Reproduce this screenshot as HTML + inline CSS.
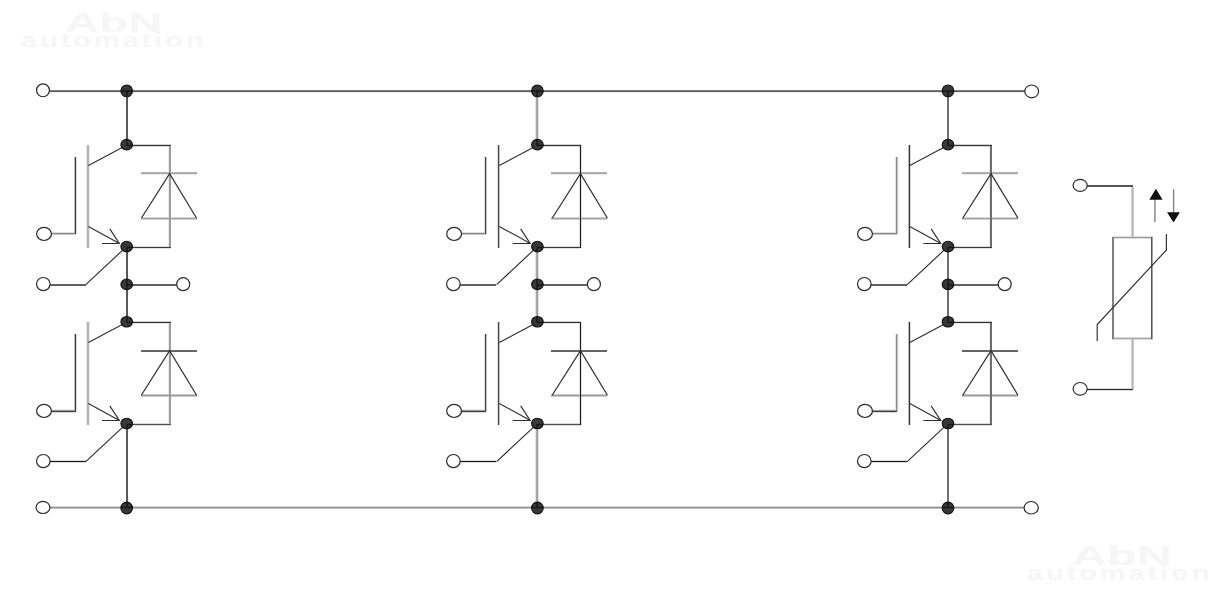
<!DOCTYPE html>
<html><head><meta charset="utf-8"><style>
html,body{margin:0;padding:0;background:#fff;width:1220px;height:590px;overflow:hidden;position:relative}
svg{display:block;position:absolute;left:0;top:0}
.wm{position:absolute;transform-origin:0 0;white-space:nowrap;font-family:"Liberation Sans",sans-serif;font-weight:bold;color:#f6f6f6;line-height:1}
</style></head><body>
<div class="wm" style="left:65px;top:10px;font-size:27px;transform:scaleX(1.75)">AbN</div>
<div class="wm" style="left:21px;top:29.5px;font-size:20px;transform:scaleX(1.45);letter-spacing:2px">automation</div>
<div class="wm" style="left:1071.5px;top:543px;font-size:27px;transform:scaleX(1.8)">AbN</div>
<div class="wm" style="left:1026.5px;top:562.5px;font-size:20px;transform:scaleX(1.45);letter-spacing:2px">automation</div>
<svg width="1220" height="590" viewBox="0 0 1220 590">
<g shape-rendering="crispEdges">
<rect x="50" y="92" width="975" height="1" fill="#eeeeee"/>
<rect x="898" y="157" width="1" height="77" fill="#eeeeee"/>
<rect x="989" y="145" width="1" height="103" fill="#eeeeee"/>
<rect x="898" y="334" width="1" height="77" fill="#eeeeee"/>
<rect x="989" y="322" width="1" height="103" fill="#eeeeee"/>
<rect x="89" y="145" width="1" height="103" fill="#ececec"/>
<rect x="168" y="145" width="1" height="103" fill="#ececec"/>
<rect x="89" y="322" width="1" height="103" fill="#ececec"/>
<rect x="168" y="322" width="1" height="103" fill="#ececec"/>
<rect x="86" y="145" width="1" height="103" fill="#e8e8e8"/>
<rect x="141" y="174" width="56" height="1" fill="#e8e8e8"/>
<rect x="50" y="409" width="26" height="1" fill="#e8e8e8"/>
<rect x="86" y="322" width="1" height="103" fill="#e8e8e8"/>
<rect x="127" y="323" width="44" height="1" fill="#e8e8e8"/>
<rect x="551" y="174" width="56" height="1" fill="#e8e8e8"/>
<rect x="460" y="409" width="26" height="1" fill="#e8e8e8"/>
<rect x="537" y="323" width="44" height="1" fill="#e8e8e8"/>
<rect x="962" y="174" width="56" height="1" fill="#e8e8e8"/>
<rect x="871" y="409" width="26" height="1" fill="#e8e8e8"/>
<rect x="948" y="323" width="44" height="1" fill="#e8e8e8"/>
<rect x="535" y="91" width="1" height="54" fill="#e4e4e4"/>
<rect x="538" y="91" width="1" height="54" fill="#e4e4e4"/>
<rect x="535" y="247" width="1" height="75" fill="#e4e4e4"/>
<rect x="538" y="247" width="1" height="75" fill="#e4e4e4"/>
<rect x="535" y="424" width="1" height="83" fill="#e4e4e4"/>
<rect x="538" y="424" width="1" height="83" fill="#e4e4e4"/>
<rect x="895" y="157" width="1" height="77" fill="#e4e4e4"/>
<rect x="895" y="334" width="1" height="77" fill="#e4e4e4"/>
<rect x="50" y="232" width="26" height="1" fill="#e0e0e0"/>
<rect x="127" y="248" width="44" height="1" fill="#e0e0e0"/>
<rect x="127" y="425" width="44" height="1" fill="#e0e0e0"/>
<rect x="460" y="232" width="26" height="1" fill="#e0e0e0"/>
<rect x="484" y="157" width="1" height="77" fill="#e0e0e0"/>
<rect x="497" y="145" width="1" height="103" fill="#e0e0e0"/>
<rect x="537" y="248" width="44" height="1" fill="#e0e0e0"/>
<rect x="579" y="145" width="1" height="103" fill="#e0e0e0"/>
<rect x="581" y="145" width="1" height="103" fill="#e0e0e0"/>
<rect x="484" y="334" width="1" height="77" fill="#e0e0e0"/>
<rect x="497" y="322" width="1" height="103" fill="#e0e0e0"/>
<rect x="537" y="425" width="44" height="1" fill="#e0e0e0"/>
<rect x="579" y="322" width="1" height="103" fill="#e0e0e0"/>
<rect x="581" y="322" width="1" height="103" fill="#e0e0e0"/>
<rect x="871" y="232" width="26" height="1" fill="#e0e0e0"/>
<rect x="910" y="145" width="1" height="103" fill="#e0e0e0"/>
<rect x="948" y="248" width="44" height="1" fill="#e0e0e0"/>
<rect x="910" y="322" width="1" height="103" fill="#e0e0e0"/>
<rect x="948" y="425" width="44" height="1" fill="#e0e0e0"/>
<rect x="1112" y="236" width="41" height="1" fill="#e0e0e0"/>
<rect x="76" y="157" width="1" height="77" fill="#dcdcdc"/>
<rect x="127" y="246" width="44" height="1" fill="#dcdcdc"/>
<rect x="50" y="412" width="26" height="1" fill="#dcdcdc"/>
<rect x="76" y="334" width="1" height="77" fill="#dcdcdc"/>
<rect x="50" y="460" width="36" height="1" fill="#dcdcdc"/>
<rect x="50" y="462" width="36" height="1" fill="#dcdcdc"/>
<rect x="537" y="246" width="44" height="1" fill="#dcdcdc"/>
<rect x="460" y="412" width="26" height="1" fill="#dcdcdc"/>
<rect x="460" y="460" width="36" height="1" fill="#dcdcdc"/>
<rect x="460" y="462" width="36" height="1" fill="#dcdcdc"/>
<rect x="948" y="246" width="44" height="1" fill="#dcdcdc"/>
<rect x="871" y="412" width="26" height="1" fill="#dcdcdc"/>
<rect x="871" y="460" width="36" height="1" fill="#dcdcdc"/>
<rect x="871" y="462" width="36" height="1" fill="#dcdcdc"/>
<rect x="1087" y="388" width="46" height="1" fill="#dcdcdc"/>
<rect x="1087" y="390" width="46" height="1" fill="#dcdcdc"/>
<rect x="1112" y="238" width="41" height="1" fill="#dcdcdc"/>
<rect x="50" y="506" width="975" height="1" fill="#dadada"/>
<rect x="127" y="423" width="44" height="1" fill="#d8d8d8"/>
<rect x="537" y="423" width="44" height="1" fill="#d8d8d8"/>
<rect x="948" y="423" width="44" height="1" fill="#d8d8d8"/>
<rect x="1112" y="337" width="41" height="1" fill="#d8d8d8"/>
<rect x="1112" y="339" width="41" height="1" fill="#d8d8d8"/>
<rect x="127" y="146" width="44" height="1" fill="#d4d4d4"/>
<rect x="141" y="217" width="56" height="1" fill="#d4d4d4"/>
<rect x="537" y="146" width="44" height="1" fill="#d4d4d4"/>
<rect x="551" y="217" width="56" height="1" fill="#d4d4d4"/>
<rect x="948" y="146" width="44" height="1" fill="#d4d4d4"/>
<rect x="962" y="217" width="56" height="1" fill="#d4d4d4"/>
<rect x="1131" y="187" width="1" height="50" fill="#d4d4d4"/>
<rect x="1131" y="339" width="1" height="50" fill="#d4d4d4"/>
<rect x="127" y="144" width="44" height="1" fill="#d0d0d0"/>
<rect x="127" y="321" width="44" height="1" fill="#d0d0d0"/>
<rect x="537" y="144" width="44" height="1" fill="#d0d0d0"/>
<rect x="537" y="321" width="44" height="1" fill="#d0d0d0"/>
<rect x="948" y="144" width="44" height="1" fill="#d0d0d0"/>
<rect x="948" y="321" width="44" height="1" fill="#d0d0d0"/>
<rect x="141" y="219" width="56" height="1" fill="#cccccc"/>
<rect x="141" y="394" width="56" height="1" fill="#cccccc"/>
<rect x="141" y="396" width="56" height="1" fill="#cccccc"/>
<rect x="551" y="219" width="56" height="1" fill="#cccccc"/>
<rect x="551" y="394" width="56" height="1" fill="#cccccc"/>
<rect x="551" y="396" width="56" height="1" fill="#cccccc"/>
<rect x="962" y="219" width="56" height="1" fill="#cccccc"/>
<rect x="962" y="394" width="56" height="1" fill="#cccccc"/>
<rect x="962" y="396" width="56" height="1" fill="#cccccc"/>
<rect x="50" y="234" width="26" height="1" fill="#c8c8c8"/>
<rect x="460" y="234" width="26" height="1" fill="#c8c8c8"/>
<rect x="871" y="234" width="26" height="1" fill="#c8c8c8"/>
<rect x="897" y="157" width="1" height="77" fill="#c8c8c8"/>
<rect x="897" y="334" width="1" height="77" fill="#c8c8c8"/>
<rect x="1133" y="187" width="1" height="50" fill="#c8c8c8"/>
<rect x="1133" y="339" width="1" height="50" fill="#c8c8c8"/>
<rect x="50" y="508" width="975" height="1" fill="#c4c4c4"/>
<rect x="499" y="145" width="1" height="103" fill="#c4c4c4"/>
<rect x="499" y="322" width="1" height="103" fill="#c4c4c4"/>
<rect x="74" y="157" width="1" height="77" fill="#c0c0c0"/>
<rect x="74" y="334" width="1" height="77" fill="#c0c0c0"/>
<rect x="486" y="157" width="1" height="77" fill="#c0c0c0"/>
<rect x="486" y="334" width="1" height="77" fill="#c0c0c0"/>
<rect x="908" y="145" width="1" height="103" fill="#b8b8b8"/>
<rect x="908" y="322" width="1" height="103" fill="#b8b8b8"/>
<rect x="1132" y="187" width="1" height="50" fill="#b8b8b8"/>
<rect x="1132" y="339" width="1" height="50" fill="#b8b8b8"/>
<rect x="88" y="145" width="1" height="103" fill="#b4b4b4"/>
<rect x="88" y="322" width="1" height="103" fill="#b4b4b4"/>
<rect x="87" y="145" width="1" height="103" fill="#b0b0b0"/>
<rect x="141" y="172" width="56" height="1" fill="#b0b0b0"/>
<rect x="87" y="322" width="1" height="103" fill="#b0b0b0"/>
<rect x="551" y="172" width="56" height="1" fill="#b0b0b0"/>
<rect x="962" y="172" width="56" height="1" fill="#b0b0b0"/>
<rect x="141" y="173" width="56" height="1" fill="#acacac"/>
<rect x="551" y="173" width="56" height="1" fill="#acacac"/>
<rect x="962" y="173" width="56" height="1" fill="#acacac"/>
<rect x="141" y="218" width="56" height="1" fill="#a8a8a8"/>
<rect x="551" y="218" width="56" height="1" fill="#a8a8a8"/>
<rect x="536" y="91" width="1" height="54" fill="#a8a8a8"/>
<rect x="536" y="247" width="1" height="75" fill="#a8a8a8"/>
<rect x="536" y="424" width="1" height="83" fill="#a8a8a8"/>
<rect x="962" y="218" width="56" height="1" fill="#a8a8a8"/>
<rect x="1112" y="338" width="41" height="1" fill="#a8a8a8"/>
<rect x="50" y="410" width="26" height="1" fill="#a0a0a0"/>
<rect x="460" y="410" width="26" height="1" fill="#a0a0a0"/>
<rect x="537" y="91" width="1" height="54" fill="#a0a0a0"/>
<rect x="537" y="247" width="1" height="75" fill="#a0a0a0"/>
<rect x="537" y="424" width="1" height="83" fill="#a0a0a0"/>
<rect x="871" y="410" width="26" height="1" fill="#a0a0a0"/>
<rect x="1152" y="237" width="1" height="102" fill="#a0a0a0"/>
<rect x="169" y="145" width="1" height="103" fill="#9c9c9c"/>
<rect x="170" y="145" width="1" height="103" fill="#9c9c9c"/>
<rect x="169" y="322" width="1" height="103" fill="#9c9c9c"/>
<rect x="170" y="322" width="1" height="103" fill="#9c9c9c"/>
<rect x="1112" y="237" width="41" height="1" fill="#9c9c9c"/>
<rect x="141" y="395" width="56" height="1" fill="#999999"/>
<rect x="551" y="395" width="56" height="1" fill="#999999"/>
<rect x="962" y="395" width="56" height="1" fill="#999999"/>
<rect x="50" y="507" width="975" height="1" fill="#909090"/>
<rect x="896" y="157" width="1" height="77" fill="#888888"/>
<rect x="896" y="334" width="1" height="77" fill="#888888"/>
<rect x="50" y="233" width="26" height="1" fill="#858585"/>
<rect x="460" y="233" width="26" height="1" fill="#858585"/>
<rect x="871" y="233" width="26" height="1" fill="#858585"/>
<rect x="1112" y="237" width="1" height="102" fill="#7e7e7e"/>
<rect x="1113" y="237" width="1" height="102" fill="#7e7e7e"/>
<rect x="50" y="90" width="975" height="1" fill="#7a7a7a"/>
<rect x="947" y="91" width="1" height="54" fill="#707070"/>
<rect x="948" y="91" width="1" height="54" fill="#707070"/>
<rect x="947" y="247" width="1" height="75" fill="#707070"/>
<rect x="948" y="247" width="1" height="75" fill="#707070"/>
<rect x="947" y="424" width="1" height="83" fill="#707070"/>
<rect x="948" y="424" width="1" height="83" fill="#707070"/>
<rect x="990" y="145" width="1" height="103" fill="#6e6e6e"/>
<rect x="991" y="145" width="1" height="103" fill="#6e6e6e"/>
<rect x="990" y="322" width="1" height="103" fill="#6e6e6e"/>
<rect x="991" y="322" width="1" height="103" fill="#6e6e6e"/>
<rect x="141" y="350" width="56" height="1" fill="#666666"/>
<rect x="141" y="351" width="56" height="1" fill="#666666"/>
<rect x="551" y="350" width="56" height="1" fill="#666666"/>
<rect x="551" y="351" width="56" height="1" fill="#666666"/>
<rect x="962" y="350" width="56" height="1" fill="#666666"/>
<rect x="962" y="351" width="56" height="1" fill="#666666"/>
<rect x="50" y="284" width="36" height="1" fill="#626262"/>
<rect x="50" y="285" width="36" height="1" fill="#626262"/>
<rect x="127" y="284" width="50" height="1" fill="#626262"/>
<rect x="127" y="285" width="50" height="1" fill="#626262"/>
<rect x="460" y="284" width="36" height="1" fill="#626262"/>
<rect x="460" y="285" width="36" height="1" fill="#626262"/>
<rect x="537" y="284" width="50" height="1" fill="#626262"/>
<rect x="537" y="285" width="50" height="1" fill="#626262"/>
<rect x="871" y="284" width="36" height="1" fill="#626262"/>
<rect x="871" y="285" width="36" height="1" fill="#626262"/>
<rect x="948" y="284" width="50" height="1" fill="#626262"/>
<rect x="948" y="285" width="50" height="1" fill="#626262"/>
<rect x="50" y="91" width="975" height="1" fill="#5e5e5e"/>
<rect x="126" y="91" width="1" height="54" fill="#585858"/>
<rect x="127" y="91" width="1" height="54" fill="#585858"/>
<rect x="126" y="247" width="1" height="75" fill="#585858"/>
<rect x="127" y="247" width="1" height="75" fill="#585858"/>
<rect x="126" y="424" width="1" height="83" fill="#585858"/>
<rect x="127" y="424" width="1" height="83" fill="#585858"/>
<rect x="1087" y="185" width="46" height="1" fill="#565656"/>
<rect x="1087" y="186" width="46" height="1" fill="#565656"/>
<rect x="1151" y="237" width="1" height="102" fill="#555555"/>
<rect x="127" y="424" width="44" height="1" fill="#4e4e4e"/>
<rect x="537" y="424" width="44" height="1" fill="#4e4e4e"/>
<rect x="948" y="424" width="44" height="1" fill="#4e4e4e"/>
<rect x="485" y="157" width="1" height="77" fill="#444444"/>
<rect x="498" y="145" width="1" height="103" fill="#444444"/>
<rect x="485" y="334" width="1" height="77" fill="#444444"/>
<rect x="498" y="322" width="1" height="103" fill="#444444"/>
<rect x="127" y="247" width="44" height="1" fill="#3c3c3c"/>
<rect x="537" y="247" width="44" height="1" fill="#3c3c3c"/>
<rect x="948" y="247" width="44" height="1" fill="#3c3c3c"/>
<rect x="75" y="157" width="1" height="77" fill="#383838"/>
<rect x="127" y="145" width="44" height="1" fill="#383838"/>
<rect x="50" y="411" width="26" height="1" fill="#383838"/>
<rect x="75" y="334" width="1" height="77" fill="#383838"/>
<rect x="537" y="145" width="44" height="1" fill="#383838"/>
<rect x="460" y="411" width="26" height="1" fill="#383838"/>
<rect x="948" y="145" width="44" height="1" fill="#383838"/>
<rect x="871" y="411" width="26" height="1" fill="#383838"/>
<rect x="909" y="145" width="1" height="103" fill="#333333"/>
<rect x="909" y="322" width="1" height="103" fill="#333333"/>
<rect x="127" y="322" width="44" height="1" fill="#2e2e2e"/>
<rect x="537" y="322" width="44" height="1" fill="#2e2e2e"/>
<rect x="948" y="322" width="44" height="1" fill="#2e2e2e"/>
<rect x="1087" y="389" width="46" height="1" fill="#2a2a2a"/>
<rect x="580" y="145" width="1" height="103" fill="#1e1e1e"/>
<rect x="580" y="322" width="1" height="103" fill="#1e1e1e"/>
<rect x="50" y="461" width="36" height="1" fill="#181818"/>
<rect x="460" y="461" width="36" height="1" fill="#181818"/>
<rect x="871" y="461" width="36" height="1" fill="#181818"/>
</g>
<line x1="88.4" y1="165.5" x2="126.5" y2="145.3" stroke="#2e2e2e" stroke-width="1.1"/>
<line x1="88.4" y1="226.4" x2="119" y2="243.2" stroke="#2e2e2e" stroke-width="1.1"/>
<polyline points="102,243.5 119.3,243.5 109.8,228.9" fill="none" stroke="#2e2e2e" stroke-width="1.15"/>
<line x1="85.8" y1="284.6" x2="126.5" y2="246.6" stroke="#2e2e2e" stroke-width="1.15"/>
<polyline points="141.3,218.2 169.6,173.6 196.6,218.2" fill="none" stroke="#2e2e2e" stroke-width="1.2"/>
<line x1="88.4" y1="342.5" x2="126.5" y2="322.3" stroke="#2e2e2e" stroke-width="1.1"/>
<line x1="88.4" y1="403.4" x2="119" y2="420.2" stroke="#2e2e2e" stroke-width="1.1"/>
<polyline points="102,420.5 119.3,420.5 109.8,405.9" fill="none" stroke="#2e2e2e" stroke-width="1.15"/>
<line x1="85.8" y1="461.6" x2="126.5" y2="423.6" stroke="#2e2e2e" stroke-width="1.15"/>
<polyline points="141.3,395.2 169.6,350.6 196.6,395.2" fill="none" stroke="#2e2e2e" stroke-width="1.2"/>
<line x1="499.25" y1="165.5" x2="537.35" y2="145.3" stroke="#2e2e2e" stroke-width="1.1"/>
<line x1="499.25" y1="226.4" x2="529.85" y2="243.2" stroke="#2e2e2e" stroke-width="1.1"/>
<polyline points="512.85,243.5 530.15,243.5 520.65,228.9" fill="none" stroke="#2e2e2e" stroke-width="1.15"/>
<line x1="496.65" y1="284.6" x2="537.35" y2="246.6" stroke="#2e2e2e" stroke-width="1.15"/>
<polyline points="552.15,218.2 580.45,173.6 607.45,218.2" fill="none" stroke="#2e2e2e" stroke-width="1.2"/>
<line x1="499.25" y1="342.5" x2="537.35" y2="322.3" stroke="#2e2e2e" stroke-width="1.1"/>
<line x1="499.25" y1="403.4" x2="529.85" y2="420.2" stroke="#2e2e2e" stroke-width="1.1"/>
<polyline points="512.85,420.5 530.15,420.5 520.65,405.9" fill="none" stroke="#2e2e2e" stroke-width="1.15"/>
<line x1="496.65" y1="461.6" x2="537.35" y2="423.6" stroke="#2e2e2e" stroke-width="1.15"/>
<polyline points="552.15,395.2 580.45,350.6 607.45,395.2" fill="none" stroke="#2e2e2e" stroke-width="1.2"/>
<line x1="909.8" y1="165.5" x2="947.9" y2="145.3" stroke="#2e2e2e" stroke-width="1.1"/>
<line x1="909.8" y1="226.4" x2="940.4" y2="243.2" stroke="#2e2e2e" stroke-width="1.1"/>
<polyline points="923.4,243.5 940.7,243.5 931.2,228.9" fill="none" stroke="#2e2e2e" stroke-width="1.15"/>
<line x1="907.2" y1="284.6" x2="947.9" y2="246.6" stroke="#2e2e2e" stroke-width="1.15"/>
<polyline points="962.7,218.2 991,173.6 1018,218.2" fill="none" stroke="#2e2e2e" stroke-width="1.2"/>
<line x1="909.8" y1="342.5" x2="947.9" y2="322.3" stroke="#2e2e2e" stroke-width="1.1"/>
<line x1="909.8" y1="403.4" x2="940.4" y2="420.2" stroke="#2e2e2e" stroke-width="1.1"/>
<polyline points="923.4,420.5 940.7,420.5 931.2,405.9" fill="none" stroke="#2e2e2e" stroke-width="1.15"/>
<line x1="907.2" y1="461.6" x2="947.9" y2="423.6" stroke="#2e2e2e" stroke-width="1.15"/>
<polyline points="962.7,395.2 991,350.6 1018,395.2" fill="none" stroke="#2e2e2e" stroke-width="1.2"/>
<polyline points="1166.4,234 1166.4,250 1097.2,324.5 1097.2,341" fill="none" stroke="#2e2e2e" stroke-width="1.15"/>
<line x1="1154.9" y1="222" x2="1154.9" y2="198" stroke="#8a8a8a" stroke-width="1.5"/>
<polygon points="1149.3,199.8 1162.6,199.8 1155.9,188.8" fill="#111"/>
<line x1="1173.6" y1="189.2" x2="1173.6" y2="213" stroke="#8a8a8a" stroke-width="1.5"/>
<polygon points="1167.0,212.2 1179.9,212.2 1173.5,222.6" fill="#111"/>
<ellipse cx="44" cy="233.9" rx="7.4" ry="6.6" fill="#fff" stroke="#2a2a2a" stroke-width="1.2"/>
<ellipse cx="43.3" cy="284.1" rx="6.8" ry="6.6" fill="#fff" stroke="#2a2a2a" stroke-width="1.2"/>
<ellipse cx="44" cy="410.9" rx="7.4" ry="6.6" fill="#fff" stroke="#2a2a2a" stroke-width="1.2"/>
<ellipse cx="43.3" cy="461.1" rx="6.8" ry="6.6" fill="#fff" stroke="#2a2a2a" stroke-width="1.2"/>
<ellipse cx="183.2" cy="284.2" rx="6.5" ry="6.5" fill="#fff" stroke="#2a2a2a" stroke-width="1.2"/>
<ellipse cx="454.1" cy="233.9" rx="7.4" ry="6.6" fill="#fff" stroke="#2a2a2a" stroke-width="1.2"/>
<ellipse cx="453.4" cy="284.1" rx="6.8" ry="6.6" fill="#fff" stroke="#2a2a2a" stroke-width="1.2"/>
<ellipse cx="454.1" cy="410.9" rx="7.4" ry="6.6" fill="#fff" stroke="#2a2a2a" stroke-width="1.2"/>
<ellipse cx="453.4" cy="461.1" rx="6.8" ry="6.6" fill="#fff" stroke="#2a2a2a" stroke-width="1.2"/>
<ellipse cx="593.9" cy="284.2" rx="6.5" ry="6.5" fill="#fff" stroke="#2a2a2a" stroke-width="1.2"/>
<ellipse cx="865" cy="233.9" rx="7.4" ry="6.6" fill="#fff" stroke="#2a2a2a" stroke-width="1.2"/>
<ellipse cx="864.3" cy="284.1" rx="6.8" ry="6.6" fill="#fff" stroke="#2a2a2a" stroke-width="1.2"/>
<ellipse cx="865" cy="410.9" rx="7.4" ry="6.6" fill="#fff" stroke="#2a2a2a" stroke-width="1.2"/>
<ellipse cx="864.3" cy="461.1" rx="6.8" ry="6.6" fill="#fff" stroke="#2a2a2a" stroke-width="1.2"/>
<ellipse cx="1004.7" cy="284.2" rx="6.5" ry="6.5" fill="#fff" stroke="#2a2a2a" stroke-width="1.2"/>
<ellipse cx="43" cy="90.3" rx="6.45" ry="6.45" fill="#fff" stroke="#2a2a2a" stroke-width="1.2"/>
<ellipse cx="43" cy="507.4" rx="6.9" ry="6.1" fill="#fff" stroke="#2a2a2a" stroke-width="1.2"/>
<ellipse cx="1031.7" cy="91.4" rx="6.9" ry="6.4" fill="#fff" stroke="#2a2a2a" stroke-width="1.2"/>
<ellipse cx="1031.2" cy="507.75" rx="7.1" ry="6.25" fill="#fff" stroke="#2a2a2a" stroke-width="1.2"/>
<ellipse cx="1080.15" cy="185.4" rx="7.05" ry="6" fill="#fff" stroke="#2a2a2a" stroke-width="1.2"/>
<ellipse cx="1080.15" cy="388.85" rx="7.05" ry="6.35" fill="#fff" stroke="#2a2a2a" stroke-width="1.2"/>
<ellipse cx="126.7" cy="90.9" rx="5.8" ry="5.9" fill="#383838" stroke="#0e0e0e" stroke-width="1.1"/>
<ellipse cx="126.7" cy="144.7" rx="5.8" ry="5.3" fill="#383838" stroke="#0e0e0e" stroke-width="1.1"/>
<ellipse cx="126.7" cy="246.55" rx="5.8" ry="5.3" fill="#383838" stroke="#0e0e0e" stroke-width="1.1"/>
<ellipse cx="126.7" cy="284.3" rx="5.8" ry="5.3" fill="#383838" stroke="#0e0e0e" stroke-width="1.1"/>
<ellipse cx="126.7" cy="321.75" rx="5.8" ry="5.3" fill="#383838" stroke="#0e0e0e" stroke-width="1.1"/>
<ellipse cx="126.7" cy="423.5" rx="5.8" ry="5.3" fill="#383838" stroke="#0e0e0e" stroke-width="1.1"/>
<ellipse cx="126.7" cy="508" rx="5.8" ry="5.9" fill="#383838" stroke="#0e0e0e" stroke-width="1.1"/>
<line x1="121.2" y1="91" x2="132.2" y2="91" stroke="#141414" stroke-width="1.3"/>
<line x1="127" y1="91" x2="127" y2="96.5" stroke="#141414" stroke-width="1.3"/>
<line x1="127" y1="139.5" x2="127" y2="145.5" stroke="#141414" stroke-width="1.3"/>
<line x1="127" y1="145.5" x2="132.2" y2="145.5" stroke="#141414" stroke-width="1.3"/>
<line x1="127" y1="247.5" x2="127" y2="252" stroke="#141414" stroke-width="1.3"/>
<line x1="127" y1="247.5" x2="132.2" y2="247.5" stroke="#141414" stroke-width="1.3"/>
<line x1="127" y1="279" x2="127" y2="289.5" stroke="#141414" stroke-width="1.3"/>
<line x1="127" y1="285" x2="132.2" y2="285" stroke="#141414" stroke-width="1.3"/>
<line x1="127" y1="316.5" x2="127" y2="322.5" stroke="#141414" stroke-width="1.3"/>
<line x1="127" y1="322.5" x2="132.2" y2="322.5" stroke="#141414" stroke-width="1.3"/>
<line x1="127" y1="424.5" x2="127" y2="429" stroke="#141414" stroke-width="1.3"/>
<line x1="127" y1="424.5" x2="132.2" y2="424.5" stroke="#141414" stroke-width="1.3"/>
<line x1="121.2" y1="507.5" x2="132.2" y2="507.5" stroke="#141414" stroke-width="1.3"/>
<line x1="127" y1="502.5" x2="127" y2="507.5" stroke="#141414" stroke-width="1.3"/>
<ellipse cx="537.4" cy="90.9" rx="5.8" ry="5.9" fill="#383838" stroke="#0e0e0e" stroke-width="1.1"/>
<ellipse cx="537.4" cy="144.7" rx="5.8" ry="5.3" fill="#383838" stroke="#0e0e0e" stroke-width="1.1"/>
<ellipse cx="537.4" cy="246.55" rx="5.8" ry="5.3" fill="#383838" stroke="#0e0e0e" stroke-width="1.1"/>
<ellipse cx="537.4" cy="284.3" rx="5.8" ry="5.3" fill="#383838" stroke="#0e0e0e" stroke-width="1.1"/>
<ellipse cx="537.4" cy="321.75" rx="5.8" ry="5.3" fill="#383838" stroke="#0e0e0e" stroke-width="1.1"/>
<ellipse cx="537.4" cy="423.5" rx="5.8" ry="5.3" fill="#383838" stroke="#0e0e0e" stroke-width="1.1"/>
<ellipse cx="537.4" cy="508" rx="5.8" ry="5.9" fill="#383838" stroke="#0e0e0e" stroke-width="1.1"/>
<line x1="531.9" y1="91" x2="542.9" y2="91" stroke="#141414" stroke-width="1.3"/>
<line x1="537" y1="91" x2="537" y2="96.5" stroke="#141414" stroke-width="1.3"/>
<line x1="537" y1="139.5" x2="537" y2="145.5" stroke="#141414" stroke-width="1.3"/>
<line x1="537" y1="145.5" x2="542.9" y2="145.5" stroke="#141414" stroke-width="1.3"/>
<line x1="537" y1="247.5" x2="537" y2="252" stroke="#141414" stroke-width="1.3"/>
<line x1="537" y1="247.5" x2="542.9" y2="247.5" stroke="#141414" stroke-width="1.3"/>
<line x1="537" y1="279" x2="537" y2="289.5" stroke="#141414" stroke-width="1.3"/>
<line x1="537" y1="285" x2="542.9" y2="285" stroke="#141414" stroke-width="1.3"/>
<line x1="537" y1="316.5" x2="537" y2="322.5" stroke="#141414" stroke-width="1.3"/>
<line x1="537" y1="322.5" x2="542.9" y2="322.5" stroke="#141414" stroke-width="1.3"/>
<line x1="537" y1="424.5" x2="537" y2="429" stroke="#141414" stroke-width="1.3"/>
<line x1="537" y1="424.5" x2="542.9" y2="424.5" stroke="#141414" stroke-width="1.3"/>
<line x1="531.9" y1="507.5" x2="542.9" y2="507.5" stroke="#141414" stroke-width="1.3"/>
<line x1="537" y1="502.5" x2="537" y2="507.5" stroke="#141414" stroke-width="1.3"/>
<ellipse cx="948" cy="90.9" rx="5.8" ry="5.9" fill="#383838" stroke="#0e0e0e" stroke-width="1.1"/>
<ellipse cx="948" cy="144.7" rx="5.8" ry="5.3" fill="#383838" stroke="#0e0e0e" stroke-width="1.1"/>
<ellipse cx="948" cy="246.55" rx="5.8" ry="5.3" fill="#383838" stroke="#0e0e0e" stroke-width="1.1"/>
<ellipse cx="948" cy="284.3" rx="5.8" ry="5.3" fill="#383838" stroke="#0e0e0e" stroke-width="1.1"/>
<ellipse cx="948" cy="321.75" rx="5.8" ry="5.3" fill="#383838" stroke="#0e0e0e" stroke-width="1.1"/>
<ellipse cx="948" cy="423.5" rx="5.8" ry="5.3" fill="#383838" stroke="#0e0e0e" stroke-width="1.1"/>
<ellipse cx="948" cy="508" rx="5.8" ry="5.9" fill="#383838" stroke="#0e0e0e" stroke-width="1.1"/>
<line x1="942.5" y1="91" x2="953.5" y2="91" stroke="#141414" stroke-width="1.3"/>
<line x1="948" y1="91" x2="948" y2="96.5" stroke="#141414" stroke-width="1.3"/>
<line x1="948" y1="139.5" x2="948" y2="145.5" stroke="#141414" stroke-width="1.3"/>
<line x1="948" y1="145.5" x2="953.5" y2="145.5" stroke="#141414" stroke-width="1.3"/>
<line x1="948" y1="247.5" x2="948" y2="252" stroke="#141414" stroke-width="1.3"/>
<line x1="948" y1="247.5" x2="953.5" y2="247.5" stroke="#141414" stroke-width="1.3"/>
<line x1="948" y1="279" x2="948" y2="289.5" stroke="#141414" stroke-width="1.3"/>
<line x1="948" y1="285" x2="953.5" y2="285" stroke="#141414" stroke-width="1.3"/>
<line x1="948" y1="316.5" x2="948" y2="322.5" stroke="#141414" stroke-width="1.3"/>
<line x1="948" y1="322.5" x2="953.5" y2="322.5" stroke="#141414" stroke-width="1.3"/>
<line x1="948" y1="424.5" x2="948" y2="429" stroke="#141414" stroke-width="1.3"/>
<line x1="948" y1="424.5" x2="953.5" y2="424.5" stroke="#141414" stroke-width="1.3"/>
<line x1="942.5" y1="507.5" x2="953.5" y2="507.5" stroke="#141414" stroke-width="1.3"/>
<line x1="948" y1="502.5" x2="948" y2="507.5" stroke="#141414" stroke-width="1.3"/>
</svg>
</body></html>
